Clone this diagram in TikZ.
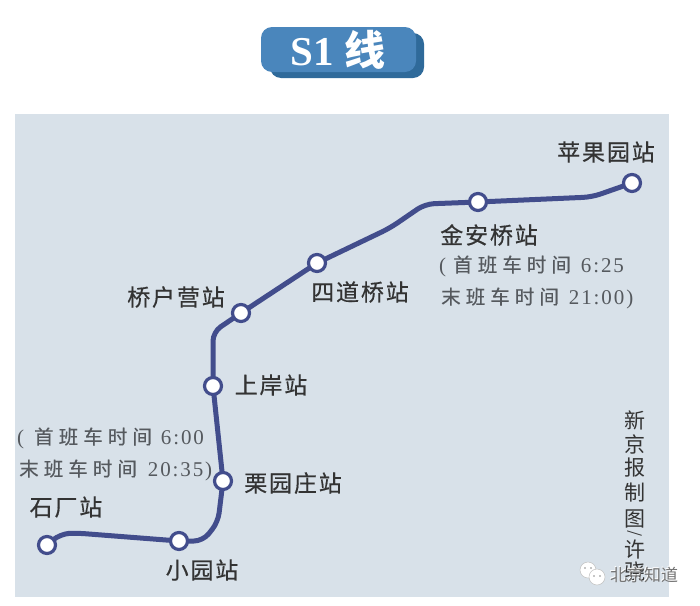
\documentclass[tikz,border=0pt]{standalone}
\usepackage{fontspec}
\setmainfont{Liberation Serif}
\newfontfamily\cjk[LetterSpace=8,FakeBold=0.5]{Noto Sans CJK SC}
\newfontfamily\cjkplain{Noto Sans CJK SC}
\newfontfamily\cjknote[LetterSpace=26,FakeBold=0.3]{Noto Sans CJK SC}
\newfontfamily\numf[LetterSpace=9]{Liberation Serif}
\definecolor{panel}{HTML}{D8E1E9}
\definecolor{linec}{HTML}{424D8C}
\definecolor{badge}{HTML}{4A86BC}
\definecolor{badgedk}{HTML}{2F6A9A}
\definecolor{labelc}{HTML}{333333}
\definecolor{notec}{HTML}{55595E}
\tikzset{
  stn/.style={circle,draw=linec,line width=3.2pt,fill=white,minimum size=17pt,inner sep=0pt},
  stlabel/.style={font=\cjk\fontsize{23}{23}\selectfont,text=labelc,inner sep=0pt},
  tnote/.style={font=\numf\fontsize{21}{24}\selectfont,text=notec,inner sep=0pt,align=left},
  route/.style={draw=linec,line width=5pt,line join=round,line cap=round,rounded corners=9pt},
  credit/.style={font=\cjkplain\fontsize{21}{21}\selectfont,text=labelc,inner sep=0pt}
}
\newcommand{\nt}[1]{{\cjknote\fontsize{19.5}{24}\selectfont #1}}
\begin{document}
\begin{tikzpicture}[x=1pt,y=-1pt]
\useasboundingbox (0,0) rectangle (700,605);
\fill[white] (0,0) rectangle (700,605);
\fill[panel] (15,114) rectangle (669,597);
% badge
\fill[badgedk,rounded corners=11pt] (270,33) rectangle (424,78);
\fill[badge,rounded corners=11pt] (261,27) rectangle (416,72);
\node[font=\bfseries\fontsize{41}{41}\selectfont,text=white,inner sep=0pt] (ttl) at (338,50) {S1 {\cjkplain\bfseries 线}};
% coordinates
\coordinate (b0) at (60,534);
\coordinate (b1) at (76,533);
\coordinate (b2) at (203,541);
\coordinate (b3) at (218,522);
\coordinate (b4) at (213,332);
\coordinate (b5) at (390,228);
\coordinate (b6) at (425,204);
\coordinate (b7) at (592,197);
\coordinate (sA) at (47,545);
\coordinate (sB) at (179,541);
\coordinate (sC) at (223,481);
\coordinate (sD) at (213,386);
\coordinate (sE) at (241,313);
\coordinate (sF) at (317,263);
\coordinate (sG) at (478,202);
\coordinate (sH) at (632,183);
\draw[route] (sA) -- (b0) -- (b1) -- (sB) -- (b2) -- (b3) -- (sC) -- (sD) -- (b4) -- (sE) -- (sF) -- (b5) -- (b6) -- (sG) -- (b7) -- (sH);
\node[stn] (n1) at (sA) {};
\node[stn] (n2) at (sB) {};
\node[stn] (n3) at (sC) {};
\node[stn] (n4) at (sD) {};
\node[stn] (n5) at (sE) {};
\node[stn] (n6) at (sF) {};
\node[stn] (n7) at (sG) {};
\node[stn] (n8) at (sH) {};
% labels
\node[stlabel] (l1) at (66,507) {石厂站};
\node[stlabel] (l2) at (202,570) {小园站};
\node[stlabel] (l3) at (293,483) {栗园庄站};
\node[stlabel] (l4) at (271,385) {上岸站};
\node[stlabel] (l5) at (176,297) {桥户营站};
\node[stlabel] (l6) at (360,292) {四道桥站};
\node[stlabel] (l7) at (489,235) {金安桥站};
\node[stlabel] (l8) at (606,152) {苹果园站};
% notes
\node[tnote,anchor=west] (t1a) at (17,438) {(\kern10pt\nt{首班车时间}\kern9pt 6:00};
\node[tnote,anchor=west] (t1b) at (19,470) {\nt{末班车时间}\kern11pt 20:35)};
\node[tnote,anchor=west] (t2a) at (439,266) {(\kern7pt\nt{首班车时间}\kern10pt 6:25};
\node[tnote,anchor=west] (t2b) at (441,298) {\nt{末班车时间}\kern10pt 21:00)};
% credit
\node[credit] (c1) at (635,420) {新};
\node[credit] (c2) at (635,444) {京};
\node[credit] (c3) at (635,468) {报};
\node[credit] (c4) at (635,493) {制};
\node[credit] (c5) at (635,519) {图};
\node[credit,rotate=90,font=\cjkplain\fontsize{15}{15}\selectfont] (c6) at (635,534) {/};
\node[credit] (c7) at (635,549) {许};
\node[credit] (c8) at (635,572) {骁};
% watermark
\fill[white,draw=black!25,line width=.5pt] (588,570) circle (8pt);
\fill[white,draw=black!25,line width=.5pt] (597,577) circle (8pt);
\fill[black!45] (585,568) circle (.9pt) (591,568) circle (.9pt) (594,576) circle (.9pt) (600,576) circle (.9pt);
\node[font=\cjkplain\fontsize{17}{17}\selectfont,text=white,inner sep=0pt] (wm) at (643.4,574.4) {北京知道};
\node[font=\cjkplain\fontsize{17}{17}\selectfont,text=black!55,inner sep=0pt] (wm2) at (644,575) {北京知道};
\end{tikzpicture}
\end{document}
